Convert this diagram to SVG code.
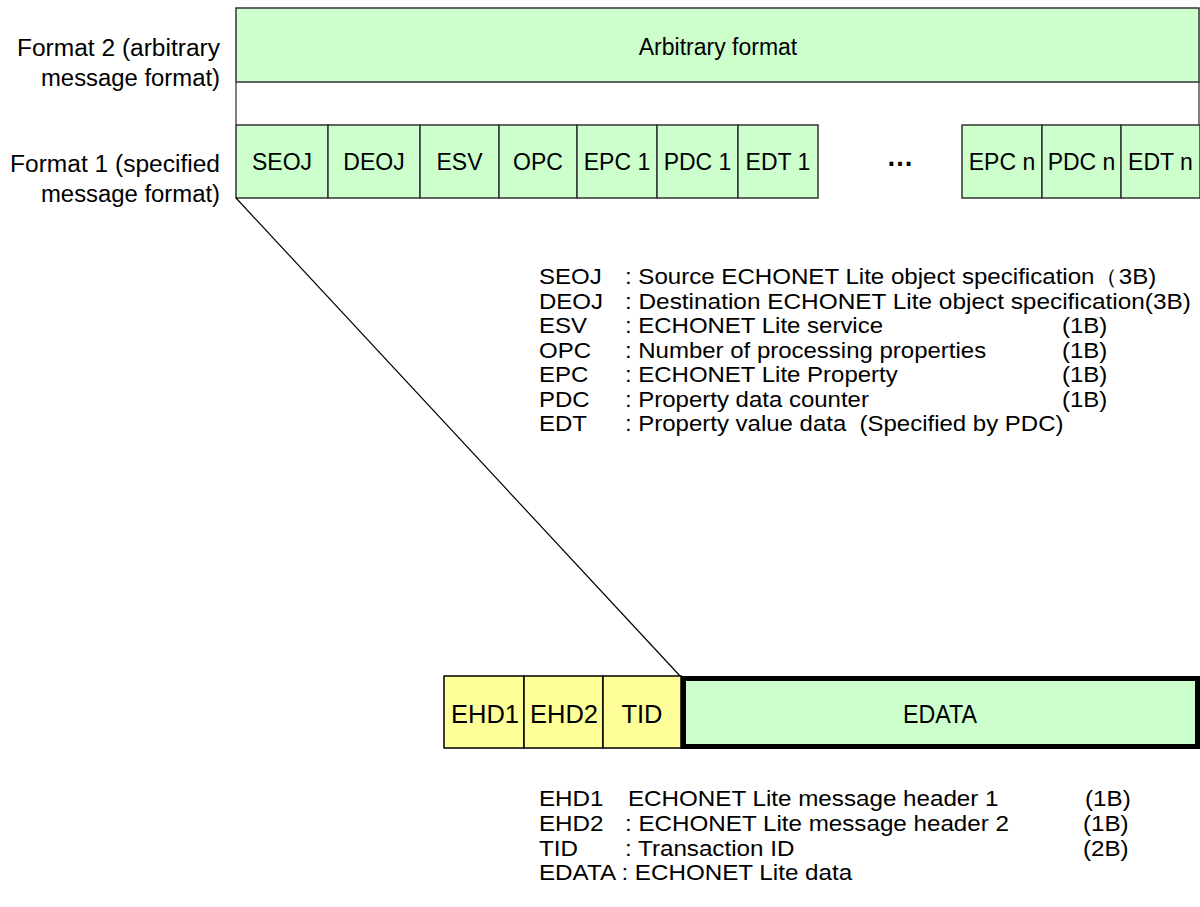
<svg xmlns="http://www.w3.org/2000/svg" width="1200" height="907" viewBox="0 0 1200 907">
<style>
  text { font-family: "Liberation Sans", Arial, sans-serif; fill: #000; }
  .lbl { font-size: 23.5px; text-anchor: end; }
  .cell { font-size: 23px; text-anchor: middle; }
  .cellb { font-size: 25.5px; text-anchor: middle; }
  .leg { font-size: 21.5px; }
  .leg2 { font-size: 22px; }
  .g { fill: #CCFFCC; stroke: #333; stroke-width: 1.5; }
  .y { fill: #FFFF99; stroke: #000; stroke-width: 1.5; }
  .frame { fill: none; stroke: #555; stroke-width: 1.5; }
</style>
<rect width="1200" height="907" fill="#fff"/>

<g id="labels">
  <text class="lbl" x="220" y="56" textLength="203" lengthAdjust="spacingAndGlyphs">Format 2 (arbitrary</text>
  <text class="lbl" x="220" y="86" textLength="179" lengthAdjust="spacingAndGlyphs">message format)</text>
  <text class="lbl" x="220" y="172" textLength="210" lengthAdjust="spacingAndGlyphs">Format 1 (specified</text>
  <text class="lbl" x="220" y="202" textLength="179" lengthAdjust="spacingAndGlyphs">message format)</text>
</g>

<g id="frame">
  <line class="frame" x1="236" y1="82" x2="236" y2="125"/>
  <line class="frame" x1="1199" y1="82" x2="1199" y2="125"/>
</g>

<g id="format2">
  <rect class="g" x="236" y="8" width="963" height="74"/>
  <text class="cell" x="718" y="55" font-size="23.5">Arbitrary format</text>
</g>

<g id="format1">
  <rect class="g" x="236" y="125" width="92" height="73"/>
  <text class="cell" x="282" y="170">SEOJ</text>
  <rect class="g" x="328" y="125" width="92" height="73"/>
  <text class="cell" x="374" y="170">DEOJ</text>
  <rect class="g" x="420" y="125" width="79" height="73"/>
  <text class="cell" x="459.5" y="170">ESV</text>
  <rect class="g" x="499" y="125" width="78" height="73"/>
  <text class="cell" x="538" y="170">OPC</text>
  <rect class="g" x="577" y="125" width="80" height="73"/>
  <text class="cell" x="617" y="170">EPC 1</text>
  <rect class="g" x="657" y="125" width="81" height="73"/>
  <text class="cell" x="697.5" y="170">PDC 1</text>
  <rect class="g" x="738" y="125" width="80" height="73"/>
  <text class="cell" x="778" y="170">EDT 1</text>
  <text x="900" y="166" font-size="27" font-weight="bold" text-anchor="middle">…</text>
  <rect class="g" x="962" y="125" width="80" height="73"/>
  <text class="cell" x="1002" y="170">EPC n</text>
  <rect class="g" x="1042" y="125" width="79" height="73"/>
  <text class="cell" x="1081.5" y="170">PDC n</text>
  <rect class="g" x="1121" y="125" width="79" height="73"/>
  <text class="cell" x="1160.5" y="170">EDT n</text>
</g>

<g id="legend1" transform="matrix(1.1163,0,0,1,-62.69,0)">
  <text class="leg" x="539" y="284">SEOJ</text>
  <text class="leg" x="616" y="284" textLength="476" lengthAdjust="spacingAndGlyphs">: Source ECHONET Lite object specification（3B)</text>
  <text class="leg" x="539" y="309">DEOJ</text>
  <text class="leg" x="616" y="309" textLength="507" lengthAdjust="spacingAndGlyphs">: Destination ECHONET Lite object specification(3B)</text>
  <text class="leg" x="539" y="333">ESV</text>
  <text class="leg" x="616" y="333">: ECHONET Lite service</text>
  <text class="leg" x="1007.5" y="333">(1B)</text>
  <text class="leg" x="539" y="358">OPC</text>
  <text class="leg" x="616" y="358">: Number of processing properties</text>
  <text class="leg" x="1007.5" y="358">(1B)</text>
  <text class="leg" x="539" y="382">EPC</text>
  <text class="leg" x="616" y="382">: ECHONET Lite Property</text>
  <text class="leg" x="1007.5" y="382">(1B)</text>
  <text class="leg" x="539" y="407">PDC</text>
  <text class="leg" x="616" y="407">: Property data counter</text>
  <text class="leg" x="1007.5" y="407">(1B)</text>
  <text class="leg" x="539" y="431">EDT</text>
  <text class="leg" x="616" y="431" xml:space="preserve">: Property value data  (Specified by PDC)</text>
</g>

<g id="connectors">
  <line x1="236" y1="198" x2="681" y2="677" stroke="#000" stroke-width="1.2"/>
</g>

<g id="ehd1">
  <rect class="y" x="444" y="676" width="80" height="72"/>
  <text class="cellb" x="485" y="723">EHD1</text>
</g>
<g id="ehd2">
  <rect class="y" x="524" y="676" width="79" height="72"/>
  <text class="cellb" x="564" y="723">EHD2</text>
</g>
<g id="tid">
  <rect class="y" x="603" y="676" width="78" height="72"/>
  <text class="cellb" x="642" y="723">TID</text>
</g>
<g id="edata">
  <rect x="683.5" y="678.5" width="514" height="68" fill="#CCFFCC" stroke="#000" stroke-width="5"/>
  <text class="cellb" x="940" y="723" textLength="74" lengthAdjust="spacingAndGlyphs">EDATA</text>
</g>

<g id="legend2" transform="matrix(1.1,0,0,1,-53.9,0)">
  <text class="leg2" x="539" y="806">EHD1</text>
  <text class="leg2" x="619.9" y="806">ECHONET Lite message header 1</text>
  <text class="leg2" x="1035.4" y="806">(1B)</text>
  <text class="leg2" x="539" y="831">EHD2</text>
  <text class="leg2" x="617.2" y="831">: ECHONET Lite message header 2</text>
  <text class="leg2" x="1033.5" y="831">(1B)</text>
  <text class="leg2" x="539" y="856">TID</text>
  <text class="leg2" x="617.2" y="856">: Transaction ID</text>
  <text class="leg2" x="1033.5" y="856">(2B)</text>
  <text class="leg2" x="539" y="880">EDATA : ECHONET Lite data</text>
</g>
</svg>
